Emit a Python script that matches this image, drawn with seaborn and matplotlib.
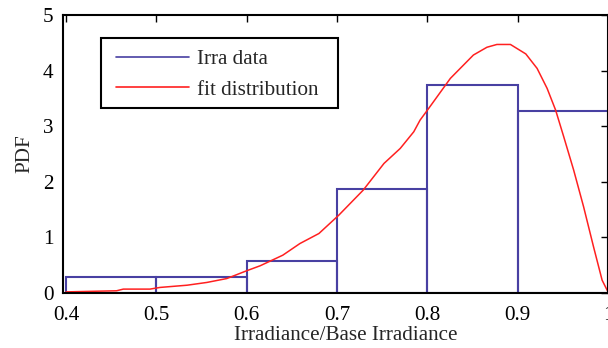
import numpy as np
import pandas as pd
import matplotlib
matplotlib.use("Agg")
import matplotlib.pyplot as plt
import seaborn as sns
from matplotlib.lines import Line2D
from matplotlib.patches import Rectangle

# ---- data ----
bin_edges = [0.4, 0.5, 0.6, 0.7, 0.8, 0.9, 1.0]
bin_heights = [0.29, 0.29, 0.58, 1.87, 3.74, 3.28]

curve_x = [0.400, 0.456, 0.4635, 0.493, 0.504, 0.534, 0.556, 0.578, 0.600, 0.615,
           0.640, 0.659, 0.680, 0.702, 0.729, 0.752, 0.770, 0.785, 0.792, 0.8015,
           0.8255, 0.851, 0.866, 0.877, 0.892, 0.909, 0.9215, 0.9326, 0.942, 0.951,
           0.962, 0.973, 0.984, 0.9935, 1.0]
curve_y = [0.02, 0.04, 0.07, 0.07, 0.10, 0.14, 0.19, 0.26, 0.40, 0.49,
           0.68, 0.89, 1.07, 1.40, 1.85, 2.33, 2.60, 2.90, 3.11, 3.32,
           3.86, 4.28, 4.42, 4.47, 4.47, 4.30, 4.04, 3.68, 3.29, 2.81,
           2.21, 1.55, 0.83, 0.23, 0.02]

x_ticks = [0.4, 0.5, 0.6, 0.7, 0.8, 0.9, 1.0]
x_tick_labels = ["0.4", "0.5", "0.6", "0.7", "0.8", "0.9", "1"]
y_ticks = [0, 1, 2, 3, 4, 5]

legend_labels = ["Irra data", "fit distribution"]
x_label = "Irradiance/Base Irradiance"
y_label = "PDF"

bar_color = "#4840a2"
line_color = "#ff2020"

# ---- plot ----
sns.set_theme(style="white")
plt.rcParams["font.family"] = ["Liberation Serif", "DejaVu Serif"]
plt.rcParams["font.size"] = 15

FS = 15.2
W, H = 608, 348
fig = plt.figure(figsize=(W / 100, H / 100), dpi=100)
left, right, top, bottom = 63, 608, 15, 293
aw, ah = right - left, bottom - top
ax = fig.add_axes([left / W, (H - bottom) / H, aw / W, ah / H])

centers = [(a + b) / 2 for a, b in zip(bin_edges[:-1], bin_edges[1:])]
hist_df = pd.DataFrame({"x": centers, "w": bin_heights})
sns.histplot(data=hist_df, x="x", weights="w", bins=bin_edges, stat="count",
             fill=False, color=bar_color, linewidth=1.5, ax=ax)

curve_df = pd.DataFrame({"x": curve_x, "y": curve_y})
sns.lineplot(data=curve_df, x="x", y="y", sort=False, color=line_color,
             linewidth=1.1, ax=ax)

ax.set_xlim(0.3967, 1.0)
ax.set_ylim(0, 5)
ax.set_xticks(x_ticks)
ax.set_xticklabels(x_tick_labels)
ax.set_yticks(y_ticks)
ax.tick_params(direction="in", length=5, width=1, top=True, right=True,
               labelsize=FS, colors="black", pad=7)
ax.tick_params(axis="x", pad=9)
for s in ax.spines.values():
    s.set_color("black")
    s.set_linewidth(1.5)
ax.set_xlabel(x_label, fontsize=FS)
ax.xaxis.set_label_coords((346 - left) / aw, -0.117)
ax.set_ylabel(y_label, fontsize=FS, labelpad=6)

# legend box (pixel geometry converted to axes fraction)
bx0, bx1, by0, by1 = 101, 338, 38, 108
ax.add_patch(Rectangle(((bx0 - left) / aw, (bottom - by1) / ah),
                       (bx1 - bx0) / aw, (by1 - by0) / ah,
                       transform=ax.transAxes, fill=True, facecolor="white",
                       edgecolor="black", linewidth=1.5, zorder=5))

handles = [Line2D([0], [0], color=bar_color, lw=1.2),
           Line2D([0], [0], color=line_color, lw=1.2)]
leg = ax.legend(handles, legend_labels, loc="upper left",
                bbox_to_anchor=((116 - left) / aw, (bottom - 49.5) / ah),
                borderaxespad=0, borderpad=0, frameon=False,
                fontsize=FS, handlelength=3.46, handletextpad=0.38,
                labelspacing=0.5)
leg.set_zorder(6)

fig.savefig("out.png", dpi=100)
